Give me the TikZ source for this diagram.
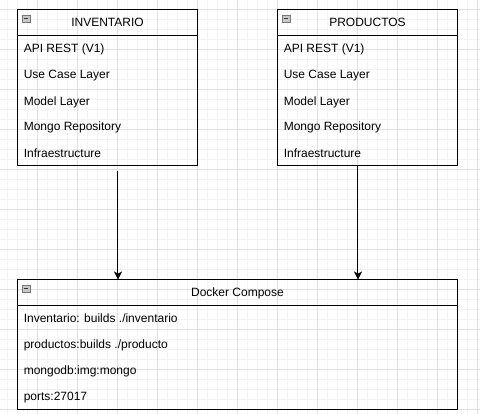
\documentclass[tikz,border=0pt]{standalone}
\usepackage{fontspec}
\setmainfont{Liberation Sans}
\usetikzlibrary{arrows.meta}
\definecolor{gridmaj}{RGB}{224,224,224}
\definecolor{gridmin}{RGB}{243,243,243}
\definecolor{iconfill}{RGB}{200,200,200}
\definecolor{iconline}{RGB}{120,120,120}
\begin{document}
\begin{tikzpicture}[x=0.75pt,y=-0.75pt,
  font=\fontsize{9pt}{11pt}\selectfont,
  box/.style={draw=black,line width=0.75pt,anchor=north west,inner sep=0pt},
  titletxt/.style={anchor=base,inner sep=0pt,text=black},
  rowtxt/.style={anchor=base west,inner sep=0pt,text=black},
  icon/.style={draw=iconline,fill=iconfill,line width=0.5pt,minimum size=5.6pt,inner sep=0pt},
  conn/.style={draw=black,line width=0.75pt,-{Stealth[length=6pt,width=6pt,inset=1.6pt]}}]
\useasboundingbox (0,0) rectangle (480,414);
\fill[white] (0,0) rectangle (480,414);
% grid
\foreach \gx in {7.5,17.5,...,477.5} \draw[gridmin,line width=0.75pt] (\gx,0) -- (\gx,414);
\foreach \gy in {9.5,19.5,...,409.5} \draw[gridmin,line width=0.75pt] (0,\gy) -- (480,\gy);
\foreach \gx in {37.5,77.5,...,477.5} \draw[gridmaj,line width=0.75pt] (\gx,0) -- (\gx,414);
\foreach \gy in {9.5,49.5,...,409.5} \draw[gridmaj,line width=0.75pt] (0,\gy) -- (480,\gy);

% INVENTARIO
\node[box,minimum width=135pt,minimum height=117pt] (inv) at (17.5,9.5) {};
\draw[line width=0.75pt] (17.5,35.5) -- (197.5,35.5);
\node[icon] (invicon) at (26.25,18.75) {};
\draw[line width=0.6pt,black!80] (24.2,18.75) -- (28.3,18.75);
\node[titletxt] (invt) at (107.5,26.8) {INVENTARIO};
\node[rowtxt] (inv1) at (23.5,53) {API REST (V1)};
\node[rowtxt] (inv2) at (23.5,79) {Use Case Layer};
\node[rowtxt] (inv3) at (23.5,105) {Model Layer};
\node[rowtxt] (inv4) at (23.5,131) {Mongo Repository};
\node[rowtxt] (inv5) at (23.5,157) {Infraestructure};

% PRODUCTOS
\node[box,minimum width=135pt,minimum height=117pt] (prod) at (277.5,9.5) {};
\draw[line width=0.75pt] (277.5,35.5) -- (457.5,35.5);
\node[icon] (prodicon) at (286.25,18.75) {};
\draw[line width=0.6pt,black!80] (284.2,18.75) -- (288.3,18.75);
\node[titletxt] (prodt) at (367.5,26.8) {PRODUCTOS};
\node[rowtxt] (prod1) at (283.5,53) {API REST (V1)};
\node[rowtxt] (prod2) at (283.5,79) {Use Case Layer};
\node[rowtxt] (prod3) at (283.5,105) {Model Layer};
\node[rowtxt] (prod4) at (283.5,131) {Mongo Repository};
\node[rowtxt] (prod5) at (283.5,157) {Infraestructure};

% Docker Compose
\node[box,minimum width=330pt,minimum height=97.5pt] (dock) at (17.5,279.5) {};
\draw[line width=0.75pt] (17.5,305.5) -- (457.5,305.5);
\node[icon] (dockicon) at (26.25,288.75) {};
\draw[line width=0.6pt,black!80] (24.2,288.75) -- (28.3,288.75);
\node[titletxt] (dockt) at (237.5,296.8) {Docker Compose};
\node[rowtxt] (dock1) at (23.5,323) {Inventario: builds ./inventario};
\node[rowtxt] (dock2) at (23.5,349) {productos:builds ./producto};
\node[rowtxt] (dock3) at (23.5,375) {mongodb:img:mongo};
\node[rowtxt] (dock4) at (23.5,401) {ports:27017};

% connectors
\path (inv.south) ++(10,4.5) coordinate (s1);
\path (prod.south) ++(-10,0) coordinate (s2);
\draw[conn] (s1) -- (s1 |- dock.north);
\draw[conn] (s2) -- (s2 |- dock.north);
\end{tikzpicture}
\end{document}
